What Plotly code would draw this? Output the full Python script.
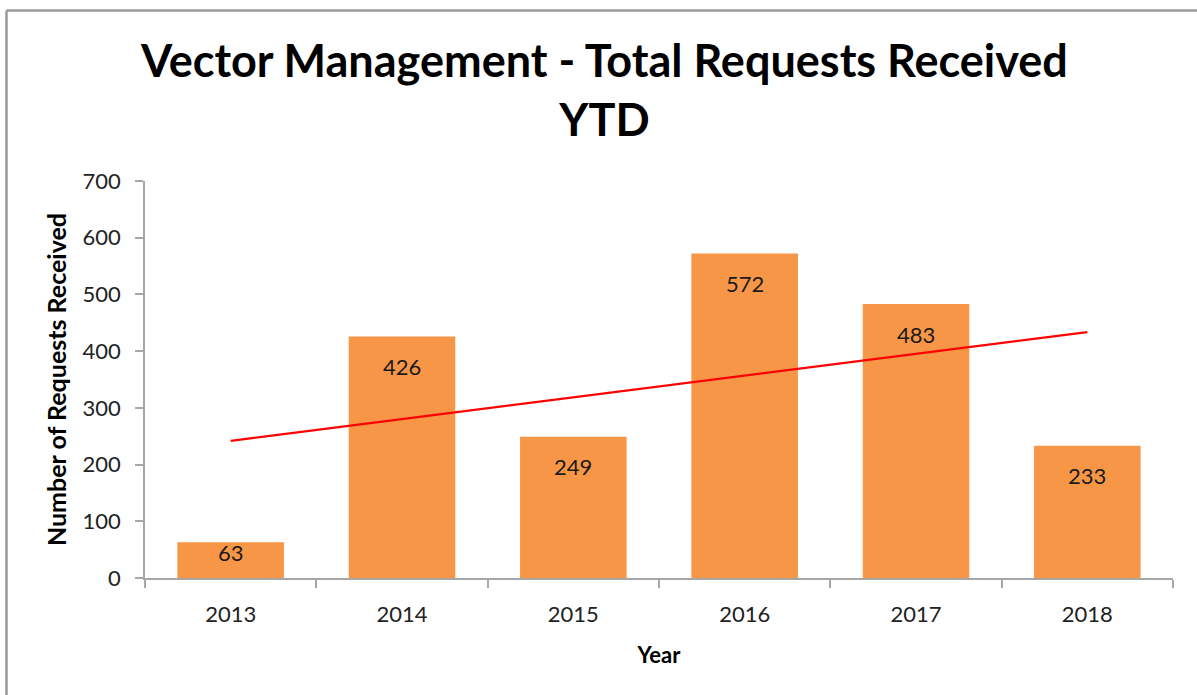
import numpy as np
import plotly.graph_objects as go

years = ["2013", "2014", "2015", "2016", "2017", "2018"]
requests = [63, 426, 249, 572, 483, 233]
y_ticks = [0, 100, 200, 300, 400, 500, 600, 700]

# Linear trendline (least squares, like Excel's linear trendline)
xi = np.arange(1, len(years) + 1)
slope, intercept = np.polyfit(xi, requests, 1)
trend = (slope * xi + intercept).tolist()

FONT = "Lato"
AXIS_GRAY = "#a6a6a6"

fig = go.Figure()
fig.add_trace(go.Bar(
    x=years, y=requests,
    marker=dict(color="#F79646", line=dict(width=0)),
    showlegend=False, hoverinfo="x+y",
))
fig.add_trace(go.Scatter(
    x=years, y=trend, mode="lines",
    line=dict(color="#FF0000", width=2.2),
    showlegend=False, hoverinfo="skip",
))

# data labels (inside end); category index used for x
for i, v in enumerate(requests):
    fig.add_annotation(
        x=i, y=v, xref="x", yref="y",
        text=str(v), showarrow=False,
        yanchor="middle", yshift=-30 if v >= 100 else -10,
        font=dict(family=FONT, size=22, color="#1a1a1a"),
    )

# title
fig.add_annotation(
    x=(604 - 145) / 1028, y=(578 - 89) / 397, xref="paper", yref="paper",
    text="<b>Vector Management - Total Requests Received<br>YTD</b>",
    showarrow=False, xanchor="center", yanchor="middle",
    font=dict(family=FONT, size=45, color="#000000"),
)

# chart frame (left and top border)
fx = (6.5 - 145) / 1028
fy = (578 - 10.5) / 397
fig.add_shape(type="line", xref="paper", yref="paper", x0=fx, x1=fx, y0=-0.5, y1=fy,
              line=dict(color="#999999", width=2.5))
fig.add_shape(type="line", xref="paper", yref="paper", x0=fx, x1=1.2, y0=fy, y1=fy,
              line=dict(color="#999999", width=2.5))

fig.update_layout(
    width=1197, height=695,
    margin=dict(l=145, r=24, t=181, b=117),
    paper_bgcolor="white", plot_bgcolor="white",
    bargap=0.378,
    font=dict(family=FONT, color="#222222"),
    xaxis=dict(
        type="category", range=[-0.5, 5.5], showgrid=False, zeroline=False,
        showline=True, linecolor=AXIS_GRAY, linewidth=1.5,
        ticks="outside", tickson="boundaries", ticklen=8, tickcolor=AXIS_GRAY, tickwidth=1.5,
        tickfont=dict(family=FONT, size=22, color="#222222"),
        ticklabelstandoff=16,
        title=dict(text="<b>Year</b>", font=dict(family=FONT, size=22, color="#000000"), standoff=21),
    ),
    yaxis=dict(
        range=[0, 700], tickvals=y_ticks, showgrid=False, zeroline=False,
        showline=True, linecolor=AXIS_GRAY, linewidth=1.5,
        ticks="outside", ticklen=8, tickcolor=AXIS_GRAY, tickwidth=1.5,
        tickfont=dict(family=FONT, size=22, color="#222222"),
        ticklabelstandoff=10,
        title=dict(text="<b>Number of Requests Received</b>", font=dict(family=FONT, size=25, color="#000000"), standoff=9),
    ),
)

fig.write_html("out.html", config={"displayModeBar": False},
               post_script="document.body.style.margin='0';")
